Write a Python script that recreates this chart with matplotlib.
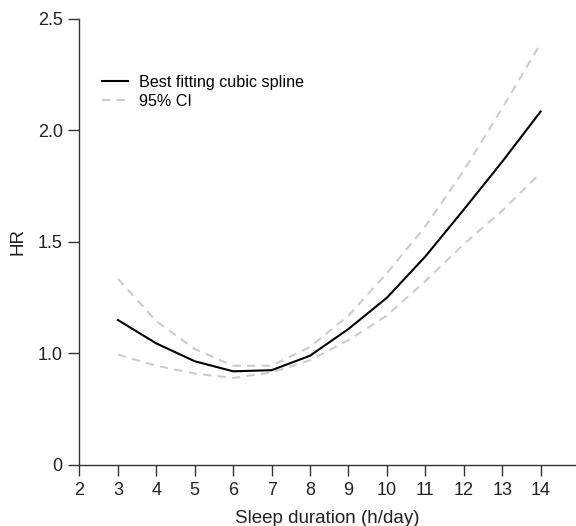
import matplotlib.pyplot as plt

plt.rcParams['font.family'] = ['Liberation Sans', 'DejaVu Sans']

# sleep duration (h/day) and hazard ratios
hours = [3, 4, 5, 6, 7, 8, 9, 10, 11, 12, 13, 14]
hr = [1.15, 1.045, 0.965, 0.92, 0.925, 0.99, 1.11, 1.25, 1.435, 1.645, 1.86, 2.085]
ci_upper = [1.335, 1.145, 1.02, 0.945, 0.945, 1.03, 1.17, 1.36, 1.57, 1.82, 2.10, 2.39]
ci_lower = [0.995, 0.945, 0.91, 0.89, 0.915, 0.97, 1.06, 1.17, 1.325, 1.49, 1.64, 1.81]

yticks = [0.5, 1.0, 1.5, 2.0, 2.5]
ytick_labels = ['0', '1.0', '1.5', '2.0', '2.5']
xticks = list(range(2, 15))

fig = plt.figure(figsize=(5.76, 5.26), dpi=100)
ax = fig.add_axes([0.138, 0.116, 0.862, 0.848])

ax.plot(hours, hr, color='black', lw=1.5, label='Best fitting cubic spline')
ax.plot(hours, ci_upper, color='#cccccc', lw=1.5, ls=(0, (4, 3)), label='95% CI')
ax.plot(hours, ci_lower, color='#cccccc', lw=1.5, ls=(0, (4, 3)))

ax.set_xlim(2, 14.92)
ax.set_ylim(0.5, 2.5)
ax.set_xticks(xticks)
ax.set_yticks(yticks)
ax.set_yticklabels(ytick_labels)

for side in ['top', 'right']:
    ax.spines[side].set_visible(False)
for side in ['left', 'bottom']:
    ax.spines[side].set_color('#333333')
    ax.spines[side].set_linewidth(1.0)
ax.tick_params(direction='out', length=8, width=1.0, color='#333333',
               labelsize=13, labelcolor='#222222', pad=4)

ax.set_xlabel('Sleep duration (h/day)', fontsize=13.5, color='#222222', labelpad=8)
ax.set_ylabel('HR', fontsize=13.5, color='#222222', labelpad=8)

ax.legend(loc='upper left', bbox_to_anchor=(0.016, 0.907), frameon=False,
          fontsize=11.6, handlelength=1.6, handletextpad=0.7, labelspacing=0.25)

fig.savefig('out.png', dpi=100)
